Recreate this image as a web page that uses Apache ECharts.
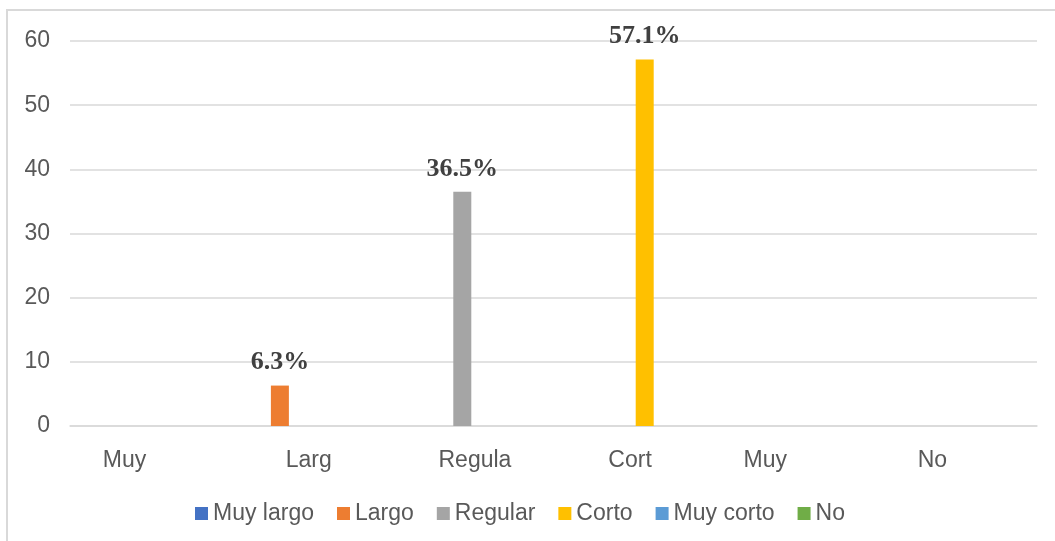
<!DOCTYPE html>
<html>
<head>
<meta charset="utf-8">
<script src="https://cdn.jsdelivr.net/npm/echarts@6/dist/echarts.min.js"></script>
<style>
  html, body { margin: 0; padding: 0; background: #fff; }
  #chart { width: 1055px; height: 541px; }
</style>
</head>
<body>
<div id="chart"></div>
<script>
// data
var categories = ['Muy', 'Larg', 'Regula', 'Cort', 'Muy', 'No'];
var seriesNames = ['Muy largo', 'Largo', 'Regular', 'Corto', 'Muy corto', 'No'];
var muyLargo = [null, null, null, null, null, null];
var largo    = [null, 6.3, null, null, null, null];
var regular  = [null, null, 36.5, null, null, null];
var corto    = [null, null, null, 57.1, null, null];
var muyCorto = [null, null, null, null, null, null];
var no       = [null, null, null, null, null, null];
var yTicks = [0, 10, 20, 30, 40, 50, 60];

var seriesData = [muyLargo, largo, regular, corto, muyCorto, no];
var colors = ['#4472C4', '#ED7D31', '#A5A5A5', '#FFC000', '#5B9BD5', '#70AD47'];

// truncated labels sit a bit off their category centre in the original
var labelShift = [-26, -3, 2, -4, -30, -24];

var chart = echarts.init(document.getElementById('chart'));

var catData = categories.map(function (c, i) {
    var s = labelShift[i];
    return {
        value: c,
        textStyle: { padding: s < 0 ? [0, -2 * s, 0, 0] : [0, 0, 0, 2 * s] }
    };
});

var series = seriesNames.map(function (name, i) {
    return {
        name: name,
        type: 'bar',
        data: seriesData[i],
        barWidth: 18,
        barGap: '18%',
        itemStyle: { color: colors[i] },
        label: {
            show: true,
            position: 'top',
            distance: 10,
            fontFamily: 'Liberation Serif',
            fontWeight: 'bold',
            fontSize: 26,
            color: '#404040',
            formatter: function (p) {
                return p.value == null ? '' : p.value.toFixed(1) + '%';
            }
        }
    };
});

var option = {
    animation: false,
    backgroundColor: '#fff',
    graphic: [{
        type: 'rect',
        shape: { x: 7, y: 10, width: 1200, height: 700 },
        style: { fill: 'none', stroke: '#D9D9D9', lineWidth: 2 },
        silent: true
    }],
    legend: {
        data: seriesNames,
        left: 190,
        top: 497,
        icon: 'rect',
        itemWidth: 13,
        itemHeight: 13,
        itemGap: 23,
        textStyle: { fontFamily: 'Liberation Sans', fontSize: 23, color: '#595959' }
    },
    grid: { left: 70, right: 18, top: 41, bottom: 115 },
    xAxis: {
        type: 'category',
        data: catData,
        axisLine: { lineStyle: { color: '#D9D9D9', width: 1.5 } },
        axisTick: { show: false },
        axisLabel: {
            margin: 23,
            fontFamily: 'Liberation Sans',
            fontSize: 23,
            color: '#595959',
            interval: 0
        }
    },
    yAxis: {
        type: 'value',
        min: yTicks[0],
        max: yTicks[yTicks.length - 1],
        interval: 10,
        axisLine: { show: false },
        axisTick: { show: false },
        splitLine: { lineStyle: { color: '#D9D9D9', width: 1.5 } },
        axisLabel: {
            margin: 20,
            fontFamily: 'Liberation Sans',
            fontSize: 23,
            color: '#595959'
        }
    },
    series: series
};

chart.setOption(option);
</script>
</body>
</html>
